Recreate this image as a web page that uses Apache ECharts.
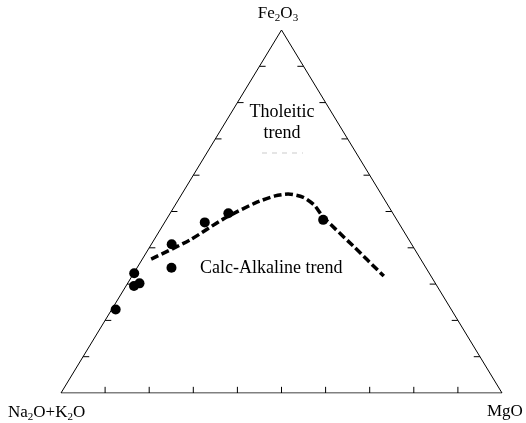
<!DOCTYPE html>
<html>
<head>
<meta charset="utf-8">
<script src="https://cdn.jsdelivr.net/npm/echarts@6/dist/echarts.min.js"></script>
<style>html,body{margin:0;padding:0;background:#fff;}#c{width:526px;height:423px;}</style>
</head>
<body>
<div id="c"></div>
<script>
// Ternary data: A = Na2O+K2O, F = Fe2O3, M = MgO (percent)
const sampleF = [23, 33, 29.5, 30.2, 41, 34.5, 47, 49.5, 47.7];
const sampleM = [0.9, 0.1, 1.8, 2.7, 4.6, 7.8, 9.1, 13.2, 35.6];
const sampleA = sampleF.map((f, i) => 100 - f - sampleM[i]);

const trendF = [36.9, 42.2, 47.9, 52.3, 54.3, 54.8, 53.9, 51.8, 48.5, 40.5, 32.2];
const trendM = [2.0, 8.2, 12.8, 17.8, 21.4, 24.1, 28.0, 31.5, 35.2, 46.0, 57.1];
const trendA = trendF.map((f, i) => 100 - f - trendM[i]);

const tickFractions = [10, 20, 30, 40, 50, 60, 70, 80, 90];

// ternary -> cartesian (x: 0..100 along base A->M, y: 0..100 height to F apex)
function tern(a, f, m) {
  const s = a + f + m;
  const F = f / s * 100, M = m / s * 100;
  return [M + F / 2, F];
}

const samplePts = sampleF.map((f, i) => tern(sampleA[i], f, sampleM[i]));
const trendPts = trendF.map((f, i) => tern(trendA[i], f, trendM[i]));
const frame = [tern(100, 0, 0), tern(0, 0, 100), tern(0, 100, 0), tern(100, 0, 0)];

// tick marks (inward): base ticks vertical, side ticks horizontal
const tickLenY = 1.7, tickLenX = 1.4;
const ticks = [];
tickFractions.forEach(t => {
  const b = tern(100 - t, 0, t);
  ticks.push(b, [b[0], b[1] + tickLenY], null);
  const l = tern(100 - t, t, 0);
  ticks.push(l, [l[0] + tickLenX, l[1]], null);
  const r = tern(0, t, 100 - t);
  ticks.push(r, [r[0] - tickLenX, r[1]], null);
});
const tickData = ticks.map(p => p === null ? [null, null] : p);

const chart = echarts.init(document.getElementById('c'), null, {renderer: 'canvas'});
const serif = '"Liberation Serif", "Times New Roman", serif';
const richLbl = {
  n: {fontFamily: serif, fontSize: 17, color: '#000'},
  s: {fontFamily: serif, fontSize: 11, color: '#000', padding: [8, 0, 0, 0]}
};
chart.setOption({
  animation: false,
  backgroundColor: '#fff',
  grid: {left: 61, right: 24, top: 30, bottom: 30},
  xAxis: {type: 'value', min: 0, max: 100, show: false},
  yAxis: {type: 'value', min: 0, max: 100, show: false},
  series: [
    {type: 'line', data: frame, symbol: 'none', lineStyle: {color: '#000', width: 1}, silent: true},
    {type: 'line', data: tickData, symbol: 'none', connectNulls: false, lineStyle: {color: '#000', width: 1}, silent: true},
    {type: 'line', data: trendPts, symbol: 'none', smooth: 0.25,
      lineStyle: {color: '#000', width: 3.5, type: [8, 3.5]}},
    {type: 'scatter', data: samplePts, symbol: 'circle', symbolSize: 10, itemStyle: {color: '#000', opacity: 1}}
  ],
  graphic: [
    {type: 'text', x: 278, y: 14, style: {text: '{n|Fe}{s|2}{n|O}{s|3}', rich: richLbl, align: 'center', verticalAlign: 'middle'}},
    {type: 'text', x: 8, y: 413, style: {text: '{n|Na}{s|2}{n|O+K}{s|2}{n|O}', rich: richLbl, align: 'left', verticalAlign: 'middle'}},
    {type: 'text', x: 487, y: 412, style: {text: 'MgO', font: '17px ' + serif, fill: '#000', verticalAlign: 'middle'}},
    {type: 'text', x: 282, y: 112, style: {text: 'Tholeitic', font: '18px ' + serif, fill: '#000', align: 'center', verticalAlign: 'middle'}},
    {type: 'text', x: 282, y: 133, style: {text: 'trend', font: '18px ' + serif, fill: '#000', align: 'center', verticalAlign: 'middle'}},
    {type: 'line', shape: {x1: 262, y1: 153, x2: 303, y2: 153}, style: {stroke: '#ccc', lineWidth: 1, lineDash: [5, 5]}},
    {type: 'text', x: 200, y: 268, style: {text: 'Calc-Alkaline trend', font: '18px ' + serif, fill: '#000', align: 'left', verticalAlign: 'middle'}}
  ]
});
</script>
</body>
</html>
